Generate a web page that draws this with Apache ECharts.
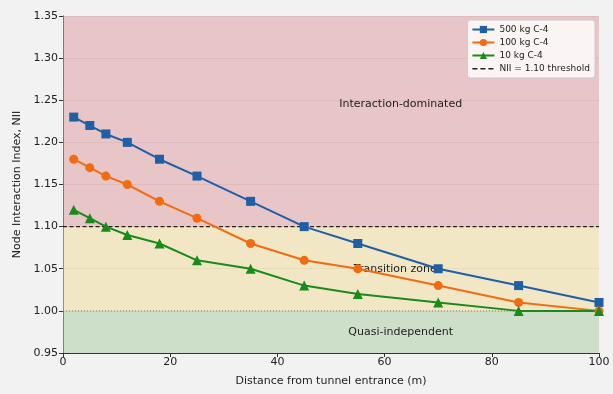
<!DOCTYPE html>
<html>
<head>
<meta charset="utf-8">
<script src="https://cdn.jsdelivr.net/npm/echarts@6/dist/echarts.min.js"></script>
<style>html,body{margin:0;padding:0;background:#f2f2f2;}#c{width:613px;height:394px;}</style>
</head>
<body>
<div id="c"></div>
<script>
const distances = [2, 5, 8, 12, 18, 25, 35, 45, 55, 70, 85, 100];
const nii500 = [1.23, 1.22, 1.21, 1.20, 1.18, 1.16, 1.13, 1.10, 1.08, 1.05, 1.03, 1.01];
const nii100 = [1.18, 1.17, 1.16, 1.15, 1.13, 1.11, 1.08, 1.06, 1.05, 1.03, 1.01, 1.00];
const nii10 = [1.12, 1.11, 1.10, 1.09, 1.08, 1.06, 1.05, 1.03, 1.02, 1.01, 1.00, 1.00];
const seriesNames = ['500 kg C-4', '100 kg C-4', '10 kg C-4', 'NII = 1.10 threshold'];
const threshold = 1.10;
const independentLevel = 1.00;
const zones = [
  {name: 'Interaction-dominated', from: 1.10, to: 1.35, labelX: 63, labelY: 1.245},
  {name: 'Transition zone', from: 1.00, to: 1.10, labelX: 62, labelY: 1.05},
  {name: 'Quasi-independent', from: 0.95, to: 1.00, labelX: 63, labelY: 0.975}
];
const zoneColors = ['rgba(224,160,162,0.55)', 'rgba(240,222,160,0.55)', 'rgba(176,208,168,0.55)'];

const font = 'DejaVu Sans';
const pair = (ys) => distances.map((d, i) => [d, ys[i]]);
const dashIcon = 'path://M0,4L5,4L5,5.4L0,5.4Z M8,4L13,4L13,5.4L8,5.4Z M16,4L21,4L21,5.4L16,5.4Z M0,0L0.01,0L0.01,9L0,9Z M21.99,0L22,0L22,9L21.99,9Z';

const chart = echarts.init(document.getElementById('c'), null, {renderer: 'canvas'});
chart.setOption({
  backgroundColor: '#f2f2f2',
  animation: false,
  textStyle: {fontFamily: font},
  grid: {left: 63, right: 14, top: 16, bottom: 41},
  xAxis: {
    type: 'value', min: 0, max: 100, interval: 20,
    name: 'Distance from tunnel entrance (m)', nameLocation: 'middle', nameGap: 23,
    nameTextStyle: {fontFamily: font, fontSize: 11, color: '#222'},
    axisLine: {show: true, onZero: false, lineStyle: {color: '#333', width: 1}},
    axisTick: {show: true, length: 4, lineStyle: {color: '#333'}},
    axisLabel: {fontFamily: font, fontSize: 11, color: '#222', margin: 4},
    splitLine: {show: false}
  },
  yAxis: {
    type: 'value', min: 0.95, max: 1.35, interval: 0.05,
    name: 'Node Interaction Index, NII', nameLocation: 'middle', nameGap: 39,
    nameTextStyle: {fontFamily: font, fontSize: 11, color: '#222'},
    axisLine: {show: true, onZero: false, lineStyle: {color: '#333', width: 1}},
    axisTick: {show: true, length: 4, lineStyle: {color: '#333'}},
    axisLabel: {fontFamily: font, fontSize: 11, color: '#222', margin: 5, formatter: v => v.toFixed(2)},
    splitLine: {show: true, lineStyle: {color: 'rgba(180,180,180,0.35)', width: 1}}
  },
  legend: {
    data: [
      {name: seriesNames[0]},
      {name: seriesNames[1]},
      {name: seriesNames[2]},
      {name: seriesNames[3], icon: dashIcon, itemStyle: {color: '#222'}}
    ],
    orient: 'vertical', right: 18, top: 20,
    itemWidth: 22, itemHeight: 9, itemGap: 4,
    padding: [5, 5, 5, 4],
    backgroundColor: 'rgba(255,255,255,0.8)',
    borderColor: '#ccc', borderWidth: 1, borderRadius: 3,
    textStyle: {fontFamily: font, fontSize: 9, color: '#222'}
  },
  series: [
    {
      name: 'zones', type: 'line', data: [], silent: true,
      markArea: {
        silent: true,
        data: zones.map((z, i) => [{yAxis: z.from, itemStyle: {color: zoneColors[i]}}, {yAxis: z.to}])
      },
      markPoint: {
        symbol: 'circle', symbolSize: 0, silent: true,
        label: {show: true, position: 'inside', fontFamily: font, fontSize: 11, color: '#222', formatter: p => p.name},
        data: zones.map(z => ({name: z.name, coord: [z.labelX, z.labelY]}))
      },
      z: 1
    },
    {
      name: seriesNames[3], type: 'line', symbol: 'none',
      data: [[0, threshold], [100, threshold]],
      lineStyle: {color: '#222', width: 1.2, type: [4, 2.5]},
      itemStyle: {color: '#222'},
      z: 2
    },
    {
      name: 'dotted', type: 'line', symbol: 'none',
      data: [[0, independentLevel], [100, independentLevel]],
      lineStyle: {color: '#777', width: 1, type: [1, 2]},
      z: 2
    },
    {
      name: seriesNames[0], type: 'line', data: pair(nii500),
      symbol: 'rect', symbolSize: 9,
      lineStyle: {color: '#1f5fa6', width: 2}, itemStyle: {color: '#1f5fa6'}, z: 5
    },
    {
      name: seriesNames[1], type: 'line', data: pair(nii100),
      symbol: 'circle', symbolSize: 9,
      lineStyle: {color: '#f26b10', width: 2}, itemStyle: {color: '#f26b10'}, z: 5
    },
    {
      name: seriesNames[2], type: 'line', data: pair(nii10),
      symbol: 'triangle', symbolSize: 10,
      lineStyle: {color: '#1a8a1a', width: 2}, itemStyle: {color: '#1a8a1a'}, z: 5
    }
  ]
});
</script>
</body>
</html>
